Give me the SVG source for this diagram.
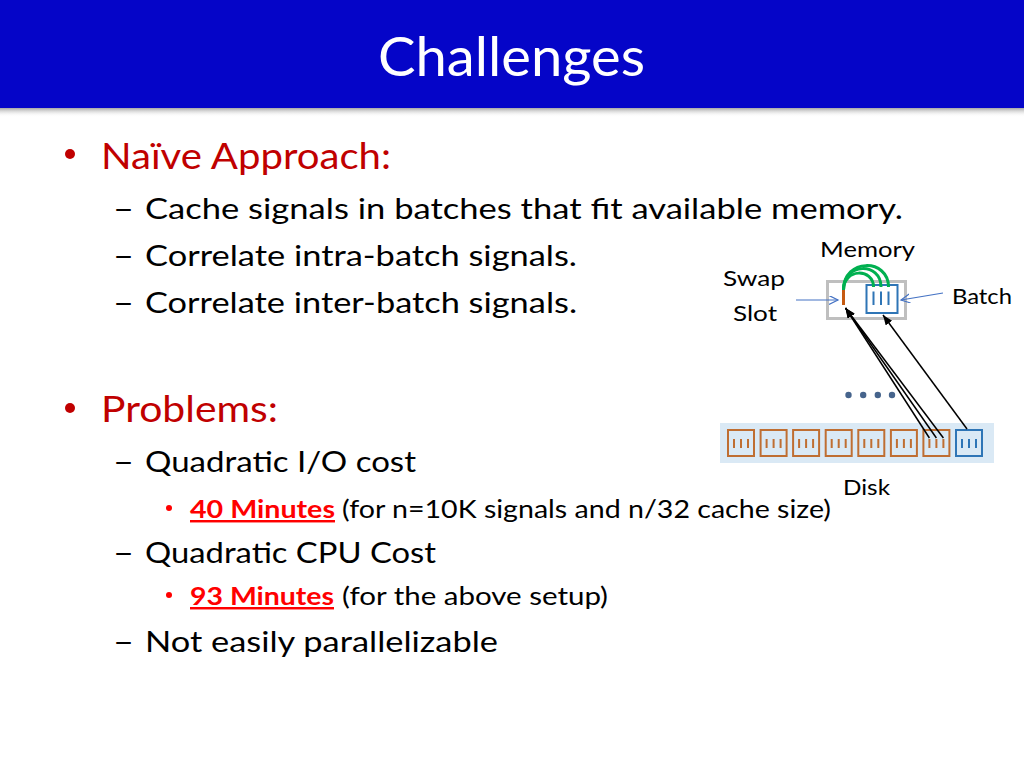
<svg xmlns="http://www.w3.org/2000/svg" xmlns:xlink="http://www.w3.org/1999/xlink" width="1024" height="768" viewBox="0 0 1024 768">
  <style>
    text { font-family: Lato, "Noto Sans", "Liberation Sans", sans-serif; }
    .l1 { font-size: 36px; fill: #c00000; }
    .l2 { font-size: 29.5px; fill: #000000; }
    .l3 { font-size: 24.5px; fill: #000000; }
    .hot { font-weight: bold; fill: #ff0000; text-decoration: underline; }
    .lbl { font-size: 21px; fill: #000000; }
    .blk { stroke: #000000; stroke-width: 1.5; fill: none; }
    .bl { stroke: #4472c4; stroke-width: 1.2; fill: none; }
    .grn { stroke: #00b050; stroke-width: 3; fill: none; }
  </style>
  <defs>
    <linearGradient id="shadow" x1="0" y1="0" x2="0" y2="1">
      <stop offset="0" stop-color="#808080" stop-opacity="0.7"/>
      <stop offset="1" stop-color="#ffffff" stop-opacity="0"/>
    </linearGradient>
    <marker id="ahBlack" markerUnits="userSpaceOnUse" markerWidth="11" markerHeight="9" refX="10" refY="4" orient="auto">
      <path d="M0,0 L10,4 L0,8 z" fill="#000000"/>
    </marker>
    <marker id="ahBlue" markerUnits="userSpaceOnUse" markerWidth="11" markerHeight="10" refX="9" refY="4.5" orient="auto">
      <path d="M0,0 L9,4.5 L0,9" fill="none" stroke="#4472c4" stroke-width="1.2"/>
    </marker>
    <g id="diskBoxBrown">
      <rect x="1" y="430" width="26" height="26" fill="none" stroke="#bf6e32" stroke-width="2"/>
      <path d="M7,439 V448 M14,439 V448 M21,439 V448" stroke="#bf6e32" stroke-width="2"/>
    </g>
    <g id="diskBoxBlue">
      <rect x="1" y="430" width="26" height="26" fill="none" stroke="#2e75b6" stroke-width="2"/>
      <path d="M7,439 V448 M14,439 V448 M21,439 V448" stroke="#2e75b6" stroke-width="2"/>
    </g>
  </defs>

  <rect x="0" y="0" width="1024" height="768" fill="#ffffff"/>

  <g id="title">
    <rect x="0" y="108" width="1024" height="9" fill="url(#shadow)"/>
    <rect x="0" y="0" width="1024" height="108" fill="#0505c8"/>
    <text x="378" y="76" font-size="54" fill="#ffffff" textLength="267" lengthAdjust="spacingAndGlyphs">Challenges</text>
  </g>

  <g id="bullets">
    <circle cx="70" cy="154" r="5" fill="#c00000"/>
    <circle cx="70" cy="408" r="5" fill="#c00000"/>
    <circle cx="169" cy="508" r="3" fill="#ff0000"/>
    <circle cx="169" cy="595" r="3" fill="#ff0000"/>
  </g>

  <g id="text-body">
    <text class="l1" x="101" y="169" textLength="290" lengthAdjust="spacingAndGlyphs">Naïve Approach:</text>
    <text class="l2" x="113" y="219" textLength="21" lengthAdjust="spacingAndGlyphs">–</text>
    <text class="l2" x="145" y="219" textLength="758" lengthAdjust="spacingAndGlyphs">Cache signals in batches that fit available memory.</text>
    <text class="l2" x="113" y="266" textLength="21" lengthAdjust="spacingAndGlyphs">–</text>
    <text class="l2" x="145" y="266" textLength="432" lengthAdjust="spacingAndGlyphs">Correlate intra-batch signals.</text>
    <text class="l2" x="113" y="313" textLength="21" lengthAdjust="spacingAndGlyphs">–</text>
    <text class="l2" x="145" y="313" textLength="432" lengthAdjust="spacingAndGlyphs">Correlate inter-batch signals.</text>

    <text class="l1" x="101" y="422" textLength="177" lengthAdjust="spacingAndGlyphs">Problems:</text>
    <text class="l2" x="113" y="472" textLength="21" lengthAdjust="spacingAndGlyphs">–</text>
    <text class="l2" x="145" y="472" textLength="271" lengthAdjust="spacingAndGlyphs">Quadratic I/O cost</text>
    <text class="l3 hot" x="190" y="518" textLength="145" lengthAdjust="spacingAndGlyphs">40 Minutes</text>
    <text class="l3" x="342" y="518" textLength="489" lengthAdjust="spacingAndGlyphs">(for n=10K signals and n/32 cache size)</text>
    <text class="l2" x="113" y="563" textLength="21" lengthAdjust="spacingAndGlyphs">–</text>
    <text class="l2" x="145" y="563" textLength="291" lengthAdjust="spacingAndGlyphs">Quadratic CPU Cost</text>
    <text class="l3 hot" x="190" y="605" textLength="144" lengthAdjust="spacingAndGlyphs">93 Minutes</text>
    <text class="l3" x="342" y="605" textLength="266" lengthAdjust="spacingAndGlyphs">(for the above setup)</text>
    <text class="l2" x="113" y="652" textLength="21" lengthAdjust="spacingAndGlyphs">–</text>
    <text class="l2" x="145" y="652" textLength="353" lengthAdjust="spacingAndGlyphs">Not easily parallelizable</text>
  </g>

  <g id="memory">
    <rect x="827.5" y="281.5" width="78" height="37" fill="#ffffff" stroke="#bfbfbf" stroke-width="3"/>
    <text class="lbl" x="820" y="256.5" textLength="95" lengthAdjust="spacingAndGlyphs">Memory</text>
  </g>

  <g id="swap-slot">
    <rect x="842" y="289" width="3" height="16" fill="#c55a11"/>
    <text class="lbl" x="723" y="286" textLength="62" lengthAdjust="spacingAndGlyphs">Swap</text>
    <text class="lbl" x="733" y="321" textLength="44" lengthAdjust="spacingAndGlyphs">Slot</text>
  </g>

  <g id="batch">
    <rect x="866.5" y="285" width="31" height="28" fill="#ffffff" stroke="#2e75b6" stroke-width="2"/>
    <path d="M873.5,291.5 V305 M881,291.5 V305 M888.5,291.5 V305" stroke="#2e75b6" stroke-width="2"/>
    <text class="lbl" x="952" y="304" textLength="60" lengthAdjust="spacingAndGlyphs">Batch</text>
  </g>

  <g id="ellipsis" fill="#46648c">
    <circle cx="848.5" cy="395" r="3.2"/>
    <circle cx="863.2" cy="395" r="3.2"/>
    <circle cx="877.8" cy="395" r="3.2"/>
    <circle cx="892" cy="395" r="3.2"/>
  </g>

  <g id="disk">
    <rect x="720" y="423" width="274" height="40" fill="#dae9f5"/>
    <use xlink:href="#diskBoxBrown" x="727"/>
    <use xlink:href="#diskBoxBrown" x="759.6"/>
    <use xlink:href="#diskBoxBrown" x="792.1"/>
    <use xlink:href="#diskBoxBrown" x="824.7"/>
    <use xlink:href="#diskBoxBrown" x="857.3"/>
    <use xlink:href="#diskBoxBrown" x="889.9"/>
    <use xlink:href="#diskBoxBrown" x="922.4"/>
    <use xlink:href="#diskBoxBlue" x="955"/>
    <text class="lbl" x="843" y="495" textLength="47" lengthAdjust="spacingAndGlyphs">Disk</text>
  </g>

  <g id="connectors">
    <path class="grn" d="M843.5,290 C843.5,258 888.5,258 888.5,287"/>
    <path class="grn" d="M843.5,290 C843.5,262 881,262 881,287"/>
    <path class="grn" d="M843.5,290 C843.5,268 873.5,268 873.5,287"/>
    <line class="bl" x1="796" y1="300" x2="838" y2="300" marker-end="url(#ahBlue)"/>
    <line class="bl" x1="943" y1="293" x2="901" y2="300" marker-end="url(#ahBlue)"/>
    <line class="blk" x1="929.4" y1="438" x2="845.5" y2="308" marker-end="url(#ahBlack)"/>
    <line class="blk" x1="936.4" y1="438" x2="845.5" y2="308" marker-end="url(#ahBlack)"/>
    <line class="blk" x1="943.4" y1="438" x2="845.5" y2="308" marker-end="url(#ahBlack)"/>
    <line class="blk" x1="967" y1="429" x2="883" y2="315" marker-end="url(#ahBlack)"/>
  </g>
</svg>
